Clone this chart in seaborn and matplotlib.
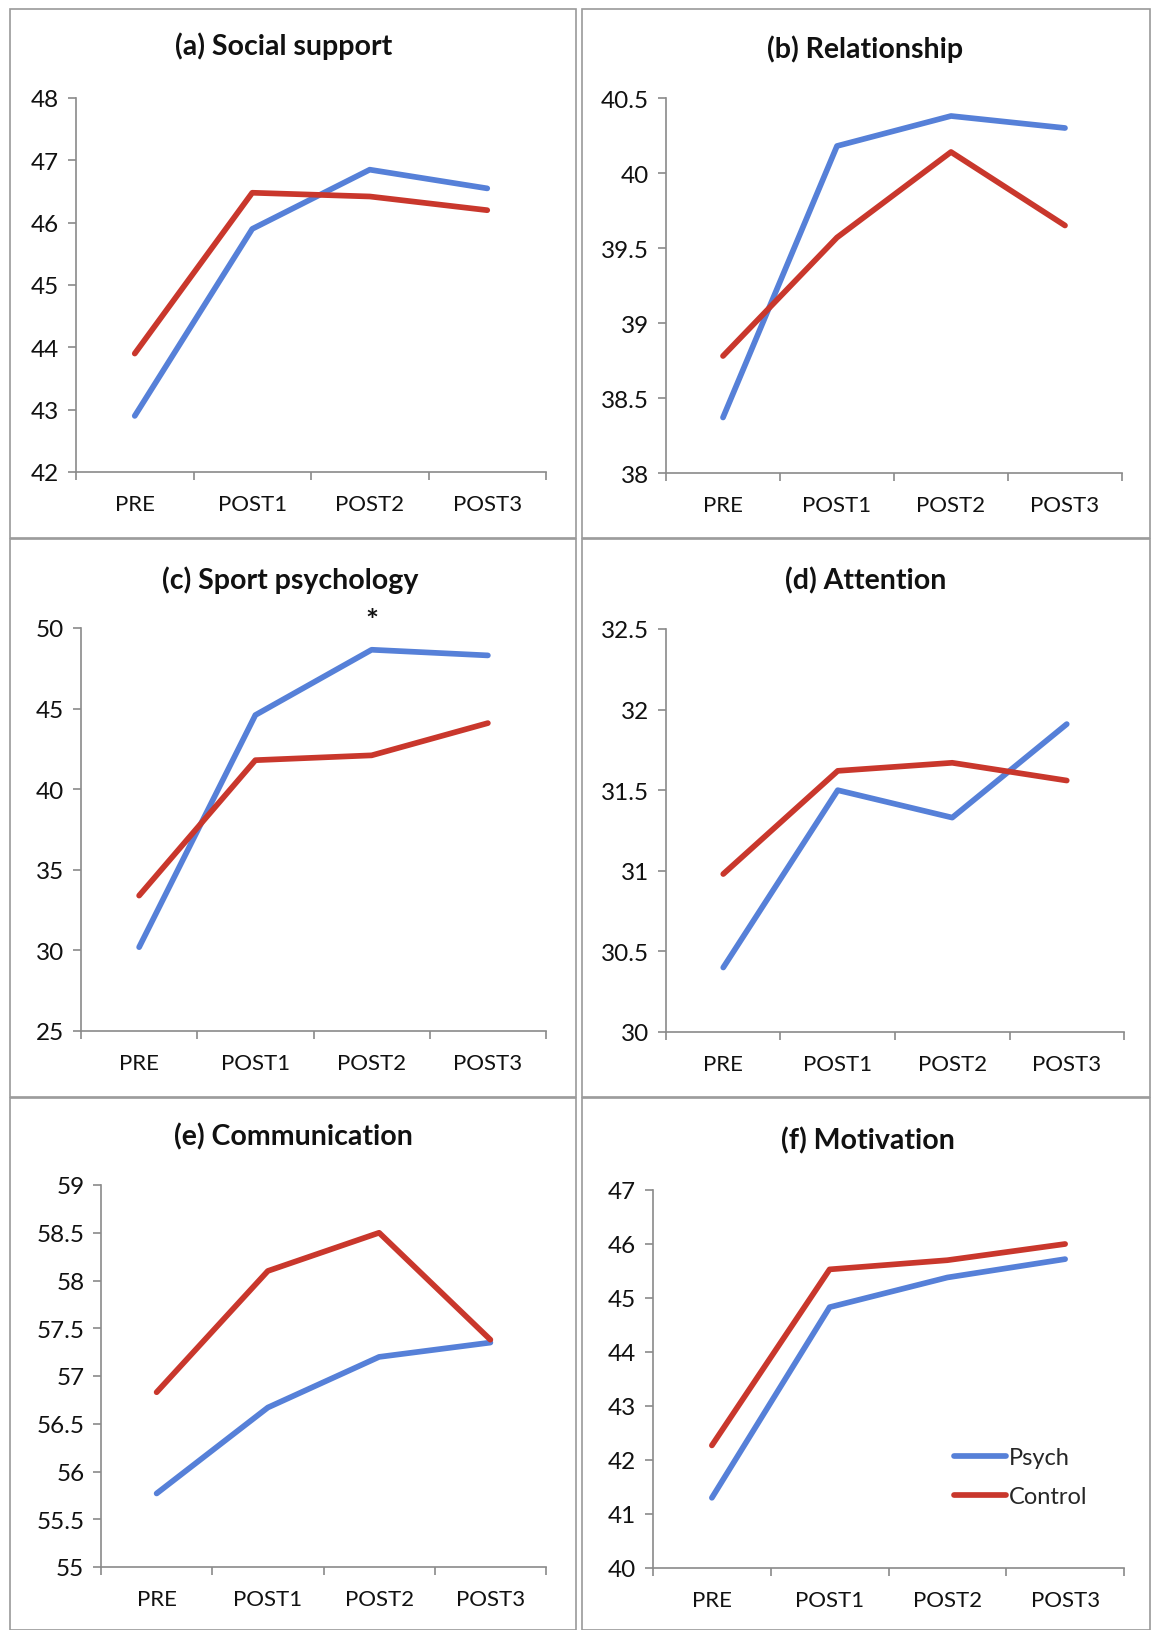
import numpy as np
import pandas as pd
import seaborn as sns
import matplotlib
matplotlib.use("Agg")
import matplotlib.pyplot as plt
from matplotlib.ticker import FixedLocator, FuncFormatter
from matplotlib.patches import Rectangle

# ---------------- data ----------------
times = ["PRE", "POST1", "POST2", "POST3"]
groups = ["Psych", "Control"]

titles = ["(a) Social support", "(b) Relationship", "(c) Sport psychology",
          "(d) Attention", "(e) Communication", "(f) Motivation"]

social_psych = [42.9, 45.9, 46.85, 46.55]
social_control = [43.9, 46.48, 46.42, 46.2]

relation_psych = [38.37, 40.18, 40.38, 40.3]
relation_control = [38.78, 39.57, 40.14, 39.65]

sport_psych = [30.2, 44.6, 48.65, 48.3]
sport_control = [33.4, 41.8, 42.1, 44.1]

attention_psych = [30.4, 31.5, 31.33, 31.91]
attention_control = [30.98, 31.62, 31.67, 31.56]

comm_psych = [55.77, 56.67, 57.2, 57.35]
comm_control = [56.83, 58.1, 58.5, 57.38]

motiv_psych = [41.3, 44.83, 45.38, 45.72]
motiv_control = [42.27, 45.53, 45.7, 46.0]

psych_series = [social_psych, relation_psych, sport_psych, attention_psych, comm_psych, motiv_psych]
control_series = [social_control, relation_control, sport_control, attention_control, comm_control, motiv_control]

y_ranges = [(42, 48, 1), (38, 40.5, 0.5), (25, 50, 5), (30, 32.5, 0.5), (55, 59, 0.5), (40, 47, 1)]

# significance marker: panel (c), POST2
star_panel = 2
star_time = "POST2"
star_y = 50.45

# ---------------- style ----------------
sns.set_theme(style="white")
plt.rcParams['font.family'] = ['Lato', 'DejaVu Sans']

BLUE = "#5680D8"
RED = "#C9372C"
GRAY = "#8a8a8a"

W, H = 1156, 1631
fig = plt.figure(figsize=(W / 100, H / 100), dpi=100)

# axes boxes in pixel coordinates: left, right, top, bottom
boxes = [
    (76, 546, 99, 473),
    (666, 1122, 99, 474),
    (81, 546, 629, 1032),
    (666, 1124, 630, 1033),
    (101, 546, 1186, 1568),
    (653, 1124, 1191, 1569),
]
title_pos = [(284, 46), (865, 49), (290, 580), (866, 581), (293, 1137), (868, 1141)]

# panel frames (pixel coords)
frames = [
    (10, 576, 10, 539), (582, 1150, 10, 539),
    (10, 576, 540, 1098), (582, 1150, 540, 1098),
    (10, 576, 1099, 1631), (582, 1150, 1099, 1631),
]
for (l, r, t, b) in frames:
    fig.patches.append(Rectangle((l / W, 1 - b / H), (r - l) / W, (b - t) / H,
                                 transform=fig.transFigure, fill=False,
                                 edgecolor="#9a9a9a", linewidth=1.2))

fmt = FuncFormatter(lambda v, p: ("%g" % round(v, 3)))

for i in range(6):
    l, r, t, b = boxes[i]
    ax = fig.add_axes([l / W, 1 - b / H, (r - l) / W, (b - t) / H])
    df = pd.DataFrame({
        "time": times * 2,
        "value": list(psych_series[i]) + list(control_series[i]),
        "group": ["Psych"] * 4 + ["Control"] * 4,
    })
    sns.lineplot(data=df, x="time", y="value", hue="group", hue_order=groups,
                 palette={"Psych": BLUE, "Control": RED}, sort=False,
                 linewidth=4.1, ax=ax, legend=(i == 5))
    lo, hi, step = y_ranges[i]
    ax.set_ylim(lo, hi)
    ax.set_xlim(-0.5, 3.5)
    ax.yaxis.set_major_locator(FixedLocator(np.arange(lo, hi + step / 2, step)))
    ax.yaxis.set_major_formatter(fmt)
    ax.set_xticks(range(4))
    ax.set_xticklabels(times)
    ax.xaxis.set_minor_locator(FixedLocator(np.arange(-0.5, 3.6, 1.0)))
    ax.tick_params(axis="x", which="major", length=0, pad=16, labelsize=16, labelcolor="#111111")
    ax.tick_params(axis="x", which="minor", length=6, width=1.2, color=GRAY, direction="out", bottom=True)
    ax.tick_params(axis="y", which="major", length=6, width=1.2, color=GRAY, direction="out", left=True,
                   pad=6, labelsize=17.5, labelcolor="#111111")
    for s in ["top", "right"]:
        ax.spines[s].set_visible(False)
    for s in ["left", "bottom"]:
        ax.spines[s].set_color(GRAY)
        ax.spines[s].set_linewidth(1.2)
    ax.set_xlabel("")
    ax.set_ylabel("")
    ax.set_facecolor("white")
    tx, ty = title_pos[i]
    fig.text(tx / W, 1 - ty / H, titles[i], ha="center", va="center",
             fontsize=20.5, fontweight="bold", color="#111111")
    if i == star_panel:
        ax.text(times.index(star_time), star_y, "*", ha="center", va="center",
                fontsize=22, fontweight="bold", color="#111111", clip_on=False)
    if i == 5:
        ax.legend(title=None, loc="center left", bbox_to_anchor=(0.595, 0.24),
                  frameon=False, fontsize=17, handlelength=2.2, handletextpad=0.1,
                  labelspacing=0.75)

fig.savefig("out.png", dpi=100, facecolor="white")
